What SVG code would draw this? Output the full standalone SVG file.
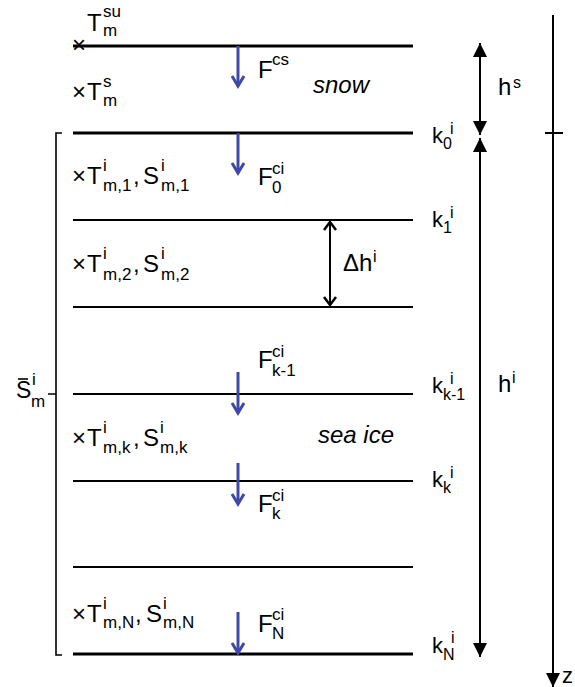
<svg xmlns="http://www.w3.org/2000/svg" width="575" height="687" viewBox="0 0 575 687">
<style>
text{font-family:"Liberation Sans",Arial,sans-serif;fill:#000}
.m{font-size:24px}
.s{font-size:17px}
.k{font-size:22px}
.ks{font-size:16px}
.it{font-style:italic;font-size:24px}
.thick{stroke:#000;stroke-width:3}
.thin{stroke:#000;stroke-width:1.8}
.blue{stroke:#4048A8;stroke-width:3;fill:none;marker-end:url(#bv)}
.blk{stroke:#000;stroke-width:2;fill:none}
</style>
<defs>
<marker id="bv" markerUnits="userSpaceOnUse" markerWidth="20" markerHeight="20" refX="0" refY="0" orient="auto" overflow="visible"><path d="M-10,-6 L0,0 L-10,6" fill="none" stroke="#4048A8" stroke-width="3"/></marker>
<marker id="kv" markerUnits="userSpaceOnUse" markerWidth="20" markerHeight="20" refX="0" refY="0" orient="auto-start-reverse" overflow="visible"><path d="M-8,-6 L0,0 L-8,6" fill="none" stroke="#000" stroke-width="2.5"/></marker>
<marker id="kt" markerUnits="userSpaceOnUse" markerWidth="20" markerHeight="20" refX="0" refY="0" orient="auto-start-reverse" overflow="visible"><path d="M0,0 L-14,-7 L-14,7 Z" fill="#000"/></marker>
</defs>

<g id="layers">
<line class="thick" x1="73" y1="46" x2="413" y2="46"/>
<line class="thick" x1="73" y1="133" x2="413" y2="133"/>
<line class="thin" x1="73" y1="220" x2="413" y2="220"/>
<line class="thin" x1="73" y1="307" x2="413" y2="307"/>
<line class="thin" x1="73" y1="394" x2="413" y2="394"/>
<line class="thin" x1="73" y1="481" x2="413" y2="481"/>
<line class="thin" x1="73" y1="567" x2="413" y2="567"/>
<line class="thick" x1="73" y1="654" x2="413" y2="654"/>
</g>

<g id="connectors">
<line class="blue" x1="238" y1="46" x2="238" y2="86"/>
<line class="blue" x1="238" y1="133" x2="238" y2="173"/>
<line class="blue" x1="238" y1="372" x2="238" y2="413"/>
<line class="blue" x1="238" y1="463" x2="238" y2="504"/>
<line class="blue" x1="238" y1="612" x2="238" y2="653"/>
<line class="blk" x1="330" y1="222" x2="330" y2="305" stroke-width="2.2" marker-start="url(#kv)" marker-end="url(#kv)"/>
<line class="blk" x1="480" y1="43" x2="480" y2="135" marker-start="url(#kt)" marker-end="url(#kt)"/>
<line class="blk" x1="480" y1="138" x2="480" y2="657" marker-start="url(#kt)" marker-end="url(#kt)"/>
<line class="blk" x1="553" y1="15" x2="553" y2="687" marker-end="url(#kt)"/>
<line class="blk" x1="545" y1="133" x2="563" y2="133"/>
</g>

<g id="bracket">
<path d="M62,133 H56 V655 H62 M56,394 H48" fill="none" stroke="#000" stroke-width="1.6"/>
<line x1="18" y1="379" x2="28" y2="379" stroke="#000" stroke-width="1.6"/>
<text class="m" style="font-size:23px"><tspan x="16" y="398">S</tspan><tspan class="s" x="32" y="385">i</tspan><tspan class="s" x="31" y="407">m</tspan></text>
</g>

<g id="snow-labels">
<text class="m"><tspan x="72" y="53">×</tspan><tspan x="87" y="31">T</tspan><tspan class="s" x="103" y="17">su</tspan><tspan class="s" x="103" y="36">m</tspan></text>
<text class="m"><tspan x="72" y="100">×</tspan><tspan x="87" y="100">T</tspan><tspan class="s" x="103" y="87">s</tspan><tspan class="s" x="103" y="106">m</tspan></text>
<text class="m"><tspan x="258" y="78">F</tspan><tspan class="s" x="272" y="65">cs</tspan></text>
<text class="it" x="313" y="93">snow</text>
<text class="m"><tspan x="498" y="95">h</tspan><tspan class="ks" x="513" y="88">s</tspan></text>
</g>

<g id="layer1">
<text class="m"><tspan x="72" y="184">×</tspan><tspan x="87" y="184">T</tspan><tspan class="s" x="103" y="171">i</tspan><tspan class="s" x="103" y="191">m,1</tspan><tspan x="133" y="184">,</tspan><tspan x="143" y="184">S</tspan><tspan class="s" x="161" y="171">i</tspan><tspan class="s" x="161" y="191">m,1</tspan></text>
<text class="m"><tspan x="258" y="185">F</tspan><tspan class="s" x="272" y="174">ci</tspan><tspan class="s" x="272" y="193">0</tspan></text>
</g>

<g id="layer2">
<text class="m"><tspan x="72" y="272">×</tspan><tspan x="87" y="272">T</tspan><tspan class="s" x="103" y="259">i</tspan><tspan class="s" x="103" y="280">m,2</tspan><tspan x="133" y="272">,</tspan><tspan x="143" y="272">S</tspan><tspan class="s" x="161" y="259">i</tspan><tspan class="s" x="161" y="280">m,2</tspan></text>
<text class="m"><tspan x="343" y="271">Δh</tspan><tspan class="ks" x="373" y="262">i</tspan></text>
</g>

<g id="layerk">
<text class="m"><tspan x="258" y="368">F</tspan><tspan class="s" x="272" y="357">ci</tspan><tspan class="s" x="272" y="376">k-1</tspan></text>
<text class="m"><tspan x="72" y="446">×</tspan><tspan x="87" y="446">T</tspan><tspan class="s" x="103" y="433">i</tspan><tspan class="s" x="103" y="453">m,k</tspan><tspan x="133" y="446">,</tspan><tspan x="143" y="446">S</tspan><tspan class="s" x="160" y="433">i</tspan><tspan class="s" x="160" y="453">m,k</tspan></text>
<text class="it" x="318" y="443">sea ice</text>
<text class="m"><tspan x="258" y="512">F</tspan><tspan class="s" x="272" y="501">ci</tspan><tspan class="s" x="272" y="519">k</tspan></text>
</g>

<g id="layerN">
<text class="m"><tspan x="72" y="622">×</tspan><tspan x="87" y="622">T</tspan><tspan class="s" x="103" y="609">i</tspan><tspan class="s" x="103" y="628">m,N</tspan><tspan x="135" y="622">,</tspan><tspan x="146" y="622">S</tspan><tspan class="s" x="163" y="609">i</tspan><tspan class="s" x="163" y="628">m,N</tspan></text>
<text class="m"><tspan x="258" y="632">F</tspan><tspan class="s" x="272" y="620">ci</tspan><tspan class="s" x="272" y="639">N</tspan></text>
</g>

<g id="interface-labels">
<text class="k"><tspan x="432" y="143">k</tspan><tspan class="ks" x="443" y="149">0</tspan><tspan class="ks" x="450" y="134">i</tspan></text>
<text class="k"><tspan x="432" y="227">k</tspan><tspan class="ks" x="443" y="233">1</tspan><tspan class="ks" x="450" y="218">i</tspan></text>
<text class="k"><tspan x="432" y="393">k</tspan><tspan class="ks" x="443" y="400">k-1</tspan><tspan class="ks" x="450" y="384">i</tspan></text>
<text class="k"><tspan x="432" y="487">k</tspan><tspan class="ks" x="443" y="493">k</tspan><tspan class="ks" x="450" y="478">i</tspan></text>
<text class="k"><tspan x="432" y="653">k</tspan><tspan class="ks" x="443" y="660">N</tspan><tspan class="ks" x="451" y="643">i</tspan></text>
<text class="m"><tspan x="498" y="392">h</tspan><tspan class="ks" x="512" y="383">i</tspan></text>
<text class="k" x="562" y="683">z</text>
</g>
</svg>
